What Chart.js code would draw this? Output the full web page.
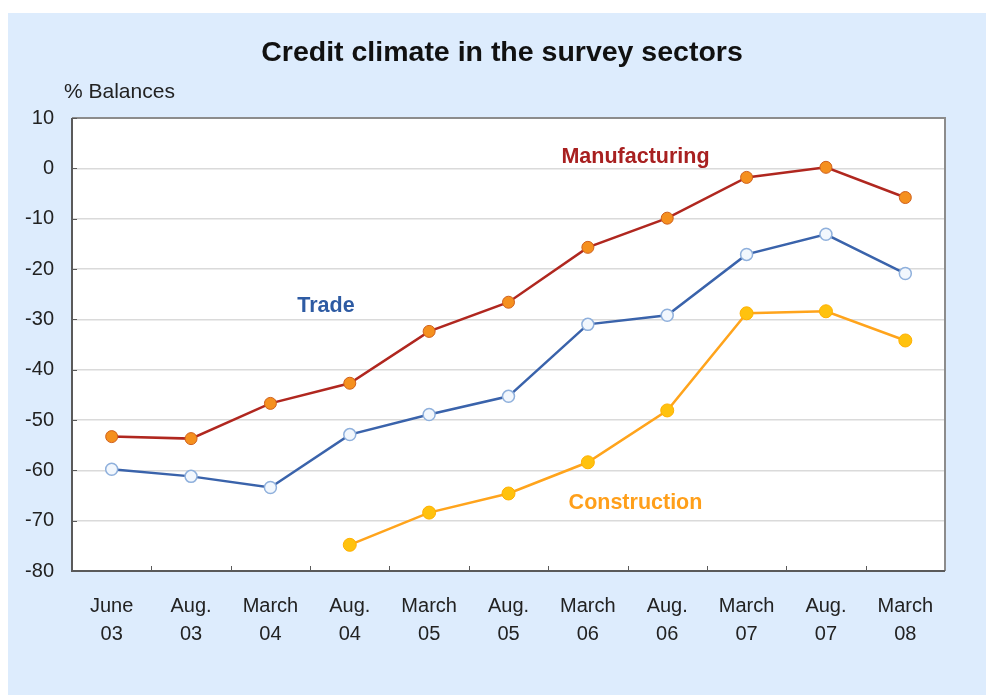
<!DOCTYPE html>
<html>
<head>
<meta charset="utf-8">
<script src="https://cdn.jsdelivr.net/npm/chart.js@4.4.1/dist/chart.umd.min.js"></script>
<style>
    body { margin: 0; background: #ffffff; }
    #caja { position: absolute; left: 8px; top: 13px; width: 978px; height: 682px; background: #ddecfd; }
    canvas { display: block; }
</style>
</head>
<body>
<div id="caja"><canvas id="grafica" width="978" height="682"></canvas></div>
<script>
var categorias = [["June", "03"], ["Aug.", "03"], ["March", "04"], ["Aug.", "04"], ["March", "05"], ["Aug.", "05"],
    ["March", "06"], ["Aug.", "06"], ["March", "07"], ["Aug.", "07"], ["March", "08"]];
var manufactura = [-53.3, -53.7, -46.7, -42.7, -32.4, -26.6, -15.7, -9.9, -1.8, 0.2, -5.8];
var comercio = [-59.8, -61.2, -63.4, -52.9, -48.9, -45.3, -31.0, -29.2, -17.1, -13.1, -20.9];
var construccion = [null, null, null, -74.8, -68.4, -64.6, -58.4, -48.1, -28.8, -28.4, -34.2];
var ticksY = [10, 0, -10, -20, -30, -40, -50, -60, -70, -80];

// etiquetas de serie: [texto, indice x, valor y, color]
var etiquetas = [
    ["Manufacturing", 6.6, 2.2, "#a82020"],
    ["Trade", 2.7, -27.4, "#2e5ba3"],
    ["Construction", 6.6, -66.6, "#ff9f1a"]
];

var fuente = "'Liberation Sans', Arial, sans-serif";

var marco = {
    id: "marco",
    beforeDraw: function (chart) {
        var ctx = chart.ctx, a = chart.chartArea;
        ctx.save();
        ctx.fillStyle = "#ffffff";
        ctx.fillRect(a.left, a.top, a.right - a.left, a.bottom - a.top);
        ctx.restore();
    },
    beforeDatasetsDraw: function (chart) {
        var ctx = chart.ctx, a = chart.chartArea, x = chart.scales.x, y = chart.scales.y;
        ctx.save();
        // borde superior y derecho
        ctx.strokeStyle = "#8c8c8c";
        ctx.lineWidth = 2;
        ctx.beginPath();
        ctx.moveTo(a.left, a.top);
        ctx.lineTo(a.right, a.top);
        ctx.lineTo(a.right, a.bottom);
        ctx.stroke();
        // ejes izquierdo e inferior
        ctx.strokeStyle = "#5a5a5a";
        ctx.beginPath();
        ctx.moveTo(a.left, a.top);
        ctx.lineTo(a.left, a.bottom);
        ctx.lineTo(a.right, a.bottom);
        ctx.stroke();
        // marcas pequeñas
        ctx.lineWidth = 1;
        var paso = x.getPixelForValue(1) - x.getPixelForValue(0);
        for (var i = 0; i < categorias.length - 1; i++) {
            var px = Math.round(x.getPixelForValue(i) + paso / 2) + 0.5;
            ctx.beginPath();
            ctx.moveTo(px, a.bottom);
            ctx.lineTo(px, a.bottom - 5);
            ctx.stroke();
        }
        ticksY.forEach(function (v) {
            var py = Math.round(y.getPixelForValue(v)) + 0.5;
            ctx.beginPath();
            ctx.moveTo(a.left, py);
            ctx.lineTo(a.left + 5, py);
            ctx.stroke();
        });
        ctx.restore();
    },
    afterDraw: function (chart) {
        var ctx = chart.ctx, x = chart.scales.x, y = chart.scales.y;
        ctx.save();
        ctx.fillStyle = "#111111";
        ctx.textAlign = "center";
        ctx.textBaseline = "middle";
        ctx.font = "bold 28.5px " + fuente;
        ctx.fillText("Credit climate in the survey sectors", 494, 40);
        ctx.textAlign = "left";
        ctx.font = "21px " + fuente;
        ctx.fillStyle = "#222222";
        ctx.fillText("% Balances", 56, 79);
        ctx.textAlign = "center";
        ctx.font = "bold 21.5px " + fuente;
        etiquetas.forEach(function (e) {
            ctx.fillStyle = e[3];
            ctx.fillText(e[0], x.getPixelForValue(e[1]), y.getPixelForValue(e[2]));
        });
        ctx.restore();
    }
};

var ctx = document.getElementById("grafica").getContext("2d");
var chart = new Chart(ctx, {
    type: "line",
    plugins: [marco],
    data: {
        labels: categorias,
        datasets: [
            {
                label: "Manufacturing",
                data: manufactura,
                borderColor: "#b0271f",
                borderWidth: 2.5,
                pointBackgroundColor: "#f5901e",
                pointBorderColor: "#d0601c",
                pointBorderWidth: 1,
                pointRadius: 6,
                tension: 0
            },
            {
                label: "Trade",
                data: comercio,
                borderColor: "#3a63ab",
                borderWidth: 2.5,
                pointBackgroundColor: "#f2f7fd",
                pointBorderColor: "#8fb0dc",
                pointBorderWidth: 1.5,
                pointRadius: 6,
                tension: 0
            },
            {
                label: "Construction",
                data: construccion,
                borderColor: "#ffa41c",
                borderWidth: 2.5,
                pointBackgroundColor: "#ffc20e",
                pointBorderColor: "#ffb000",
                pointBorderWidth: 1,
                pointRadius: 6.5,
                tension: 0
            }
        ]
    },
    options: {
        responsive: false,
        animation: false,
        devicePixelRatio: 1,
        layout: { padding: { top: 105, right: 41, left: 0, bottom: 0 } },
        plugins: {
            legend: { display: false },
            tooltip: { enabled: false }
        },
        scales: {
            x: {
                offset: true,
                grid: { display: false },
                border: { display: false },
                ticks: {
                    color: "#222222",
                    font: { family: fuente, size: 20, lineHeight: 1.4 },
                    padding: 13,
                    maxRotation: 0,
                    autoSkip: false
                },
                afterFit: function (s) { s.height = 124; }
            },
            y: {
                min: -80,
                max: 10,
                grid: { color: "#dadada", lineWidth: 1.5, drawTicks: false },
                border: { display: false },
                ticks: {
                    stepSize: 10,
                    color: "#222222",
                    font: { family: fuente, size: 20 },
                    padding: 18
                },
                afterFit: function (s) { s.width = 64; }
            }
        }
    }
});
</script>
</body>
</html>
